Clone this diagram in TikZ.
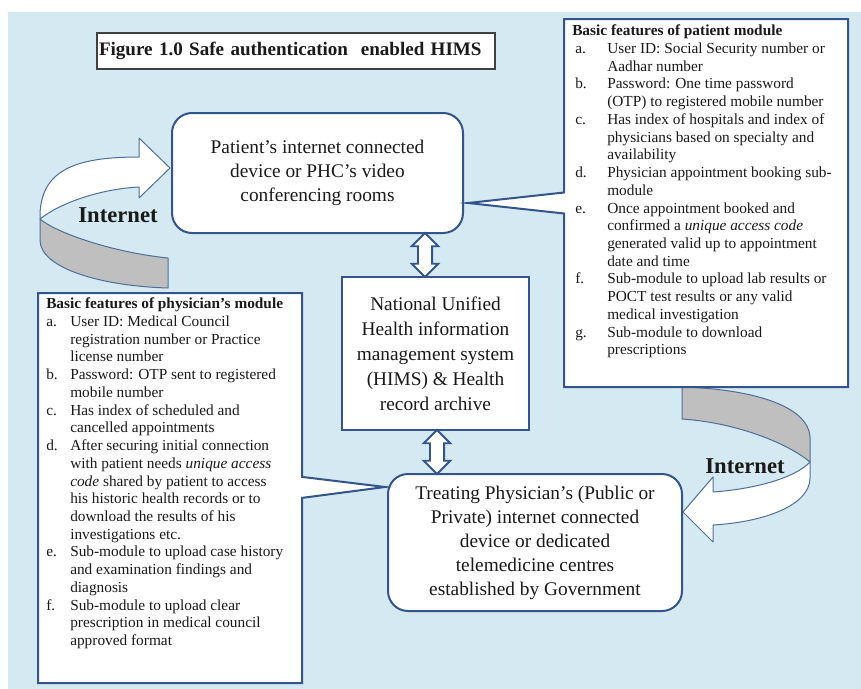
\documentclass[tikz,border=0pt]{standalone}
\usepackage{fontspec}
\setmainfont{Liberation Serif}
\usepackage{tikz}
\usetikzlibrary{positioning,calc,shapes.arrows,shapes.callouts}
\definecolor{bgblue}{HTML}{D4E9F2}
\definecolor{boxline}{HTML}{34558B}
\definecolor{ribline}{HTML}{4F6E9A}
\definecolor{ribgray}{HTML}{BFBFBF}
\definecolor{ink}{HTML}{1A1A1A}
\definecolor{titleline}{HTML}{404040}
\tikzset{
  roundbox/.style={draw=boxline,fill=white,line width=1.5pt,rounded corners=15pt,
                   align=center,font=\fontsize{14.5}{18}\selectfont,text=ink,inner sep=0pt},
  plainbox/.style={draw=boxline,fill=white,line width=1.5pt,
                   align=center,font=\fontsize{14.5}{18.75}\selectfont,text=ink,inner sep=0pt},
  modbox/.style={rectangle callout,draw=boxline,fill=white,line width=1.5pt,
                 inner sep=0pt,callout pointer width=15.75pt},
  listtext/.style={anchor=north west,inner sep=0pt,text=ink,align=left,
                   font=\fontsize{11.5}{13.3}\selectfont},
  titlebox/.style={draw=titleline,fill=white,line width=1pt,text=ink,
                   font=\bfseries\fontsize{14.3}{17}\selectfont},
  netlabel/.style={font=\bfseries\fontsize{17}{20}\selectfont,text=ink},
  ribbon/.style={draw=ribline,line width=0.75pt,line join=round},
  dblarr/.style={double arrow,draw=boxline,fill=white,line width=1.4pt,rotate=90,
                 inner xsep=0pt,inner ysep=4.6pt,double arrow head extend=4.6pt,
                 minimum height=33pt}
}
\newcommand{\lbl}[1]{\hspace*{2.25pt}#1}

\begin{document}
\begin{tikzpicture}[x=0.75pt,y=-0.75pt]
  \useasboundingbox (0,0) rectangle (861,689);
  \fill[bgblue] (8,12) rectangle (861,689);

  % title
  \node[titlebox,minimum height=27pt,inner ysep=0pt,inner xsep=1.5pt,
        text width=295.5pt,align=left] (title) at (296,51)
        {Figure 1.0 Safe authentication\ \ enabled HIMS};

  % left ribbon arrow: Internet
  \path[ribbon,fill=ribgray] (40,219) .. controls (55,232) and (110,252) .. (168,258)
     -- (168,288) .. controls (100,286) and (40,268) .. (40,240) -- cycle;
  \path[ribbon,fill=white] (40,219) .. controls (39,170) and (75,157) .. (139,157)
     -- (139,138) -- (170,168) -- (139,198) -- (139,187)
     .. controls (100,189) and (60,203) .. (40,219) -- cycle;

  % right ribbon arrow: Internet
  \path[ribbon,fill=ribgray] (682,387) .. controls (750,389) and (808,405) .. (810,437)
     -- (810,462) .. controls (790,445) and (740,423) .. (682,419) -- cycle;
  \path[ribbon,fill=white] (810,462) .. controls (795,478) and (755,489) .. (713,492)
     -- (713,477) -- (683,512) -- (713,542) -- (713,525)
     .. controls (765,522) and (810,505) .. (810,478) -- cycle;

  % main boxes
  \node[roundbox,minimum width=218.25pt,minimum height=90pt] (pat) at (317.5,173)
    {Patient's internet connected\\device or PHC's video\\conferencing rooms};
  \node[plainbox,minimum width=140.25pt,minimum height=114.75pt] (hims) at (435.5,353.5)
    {National Unified\\Health information\\management system\\(HIMS) \& Health\\record archive};
  \node[roundbox,minimum width=220.5pt,minimum height=102.75pt] (treat) at (535,542.5)
    {Treating Physician's (Public or\\Private) internet connected\\device or dedicated\\telemedicine centres\\established by Government};

  % patient module
  \node[modbox,minimum width=213pt,minimum height=276pt,
        callout absolute pointer={($(pat.east)+(4,30)$)}] (pmod) at (706,203) {};
  \node[listtext] (ptext) at ($(pmod.north west)+(9,5)$) {%
    \begin{tabular}{@{}p{26.25pt}@{}l@{}}
    \multicolumn{2}{@{}l@{}}{\textbf{Basic features of patient module}}\\
    \lbl{a.} & User ID: Social Security number or\\
             & Aadhar number\\
    \lbl{b.} & Password: One time password\\
             & (OTP) to registered mobile number\\
    \lbl{c.} & Has index of hospitals and index of\\
             & physicians based on specialty and\\
             & availability\\
    \lbl{d.} & Physician appointment booking sub-\\
             & module\\
    \lbl{e.} & Once appointment booked and\\
             & confirmed a \emph{unique access code}\\
             & generated valid up to appointment\\
             & date and time\\
    \lbl{f.} & Sub-module to upload lab results or\\
             & POCT test results or any valid\\
             & medical investigation\\
    \lbl{g.} & Sub-module to download\\
             & prescriptions
    \end{tabular}};

  % physician module
  \node[modbox,minimum width=198pt,minimum height=292.5pt,
        callout absolute pointer={($(treat.north west)+(-2,14)$)}] (dmod) at (170,488) {};
  \node[listtext] (dtext) at ($(dmod.north west)+(9,4)$) {%
    \begin{tabular}{@{}p{18pt}@{}l@{}}
    \multicolumn{2}{@{}l@{}}{\textbf{Basic features of physician's module}}\\
    a. & User ID: Medical Council\\
       & registration number or Practice\\
       & license number\\
    b. & Password: OTP sent to registered\\
       & mobile number\\
    c. & Has index of scheduled and\\
       & cancelled appointments\\
    d. & After securing initial connection\\
       & with patient needs \emph{unique access}\\
       & \emph{code} shared by patient to access\\
       & his historic health records or to\\
       & download the results of his\\
       & investigations etc.\\
    e. & Sub-module to upload case history\\
       & and examination findings and\\
       & diagnosis\\
    f. & Sub-module to upload clear\\
       & prescription in medical council\\
       & approved format
    \end{tabular}};

  % links to the archive
  \node[dblarr] (a1) at (425,255) {};
  \node[dblarr] (a2) at (437,452) {};

  \node[netlabel] (net1) at (118,215) {Internet};
  \node[netlabel] (net2) at (745,466) {Internet};
\end{tikzpicture}
\end{document}
